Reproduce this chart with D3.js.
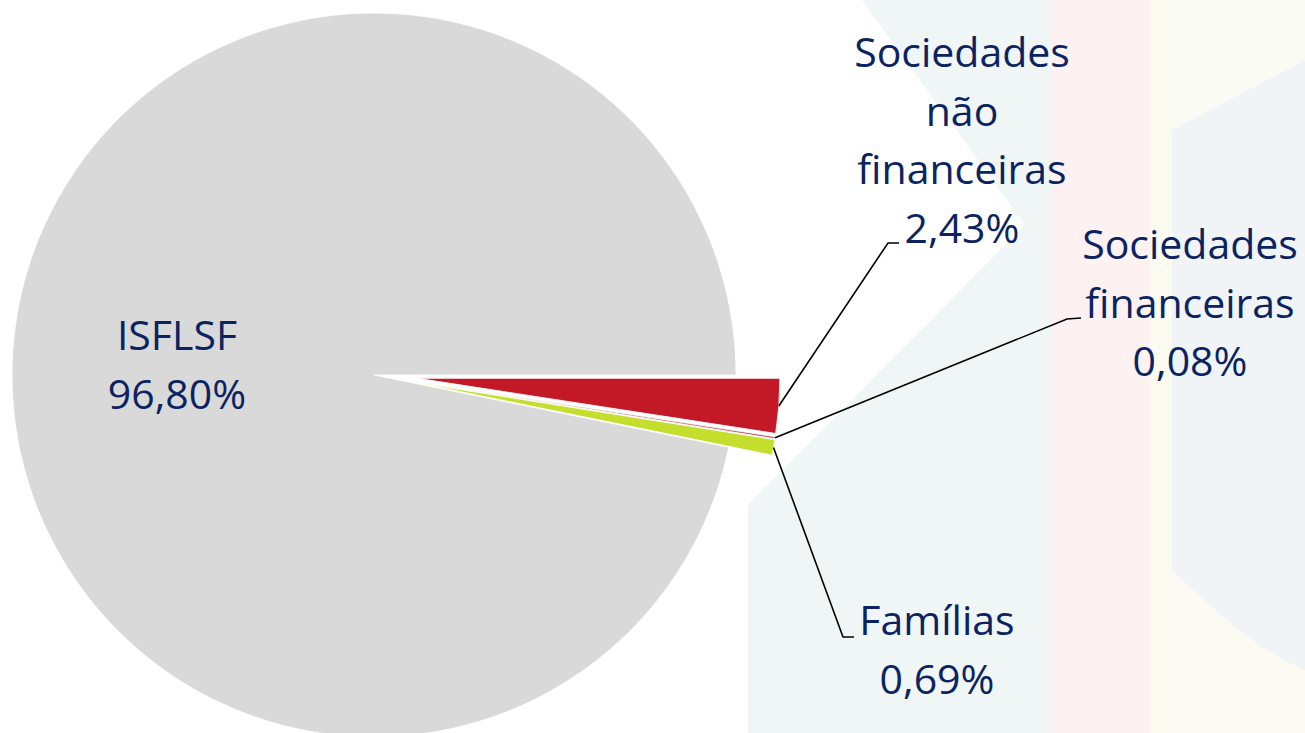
<!DOCTYPE html>
<html>
<head>
<meta charset="utf-8">
<script src="https://cdn.jsdelivr.net/npm/d3@7"></script>
<style>
    html, body { margin: 0; padding: 0; background: #ffffff; }
    svg { display: block; }
    .label { font-family: "Open Sans", "Noto Sans", sans-serif; fill: #0b2461; }
</style>
</head>
<body>
<div id="chart"></div>
<script>
// data (share of the total, %)
var sectors = ["Sociedades não financeiras", "Sociedades financeiras", "Famílias", "ISFLSF"];
var shares = [2.43, 0.08, 0.69, 96.80];
var colors = ["#c31826", "#b0444f", "#c3de2d", "#d9d9d9"];
var exploded = [true, true, true, false];

(function () {
    "use strict";

    var width = 1305,
        height = 733,
        cx = 374,
        cy = 375,
        radius = 362,
        explode = 44,
        fontSize = 41,
        lineHeight = 58.5,
        wrapWidth = 232,
        // label layout: centre x, first baseline, leader elbow (pie slices only)
        labelPos = [
            { x: 962, y: 67, elbow: [[888, 243], [899, 243]] },
            { x: 1190, y: 259, elbow: [[1067, 319], [1081, 318]] },
            { x: 937, y: 635, elbow: [[843, 637], [854, 637]] },
            { x: 177, y: 350, elbow: null }
        ];

    var svg = d3.select("#chart")
        .append("svg")
        .attr("width", width)
        .attr("height", height);

    // faint slide background
    var bg = svg.append("g").attr("class", "background");
    bg.append("polygon")
        .attr("points", "862,0 1052,0 1052,733 748,733 748,505 1025,225")
        .attr("fill", "#f0f5f5");
    bg.append("rect")
        .attr("x", 1052).attr("y", 0).attr("width", 98).attr("height", height)
        .attr("fill", "#fdf1f2");
    bg.append("rect")
        .attr("x", 1150).attr("y", 0).attr("width", 22).attr("height", height)
        .attr("fill", "#fbfbf1");
    bg.append("polygon")
        .attr("points", "1172,130 1305,60 1305,733 1172,733")
        .attr("fill", "#f0f4f6");
    bg.append("polygon")
        .attr("points", "1172,0 1305,0 1305,60 1172,130")
        .attr("fill", "#fafbf4");
    bg.append("path")
        .attr("d", "M1172,570 C1215,610 1255,650 1305,670 L1305,733 L1172,733 Z")
        .attr("fill", "#fbfbf3");

    var pie = d3.pie()
        .sort(null)
        .value(function (d) { return d; })
        .startAngle(Math.PI / 2)
        .endAngle(Math.PI / 2 + 2 * Math.PI);

    var arcs = pie(shares);

    var arc = d3.arc()
        .innerRadius(0)
        .outerRadius(radius);

    function offset(d, i) {
        if (!exploded[i]) {
            return [0, 0];
        }
        var a = (d.startAngle + d.endAngle) / 2;
        return [explode * Math.sin(a), -explode * Math.cos(a)];
    }

    var pieG = svg.append("g")
        .attr("transform", "translate(" + cx + "," + cy + ")");

    // draw the big slice first so the small exploded ones sit on top
    var order = [3, 0, 1, 2];
    order.forEach(function (i) {
        var o = offset(arcs[i], i);
        pieG.append("path")
            .attr("d", arc(arcs[i]))
            .attr("transform", "translate(" + o[0] + "," + o[1] + ")")
            .attr("fill", colors[i])
            .attr("stroke", "#ffffff")
            .attr("stroke-width", 0.8)
            .attr("stroke-linejoin", "miter");
    });

    // leader lines from the middle of each outer arc
    arcs.forEach(function (d, i) {
        var lp = labelPos[i];
        if (!lp.elbow) {
            return;
        }
        var o = offset(d, i),
            a = (d.startAngle + d.endAngle) / 2,
            sx = cx + o[0] + radius * Math.sin(a),
            sy = cy + o[1] - radius * Math.cos(a);
        svg.append("polyline")
            .attr("points", [[sx, sy]].concat(lp.elbow).map(function (p) { return p.join(","); }).join(" "))
            .attr("fill", "none")
            .attr("stroke", "#000000")
            .attr("stroke-width", 1.6);
    });

    function fmt(v) {
        return v.toFixed(2).replace(".", ",") + "%";
    }

    // greedy word wrap using the real text width
    var probe = svg.append("text").attr("class", "label").attr("font-size", fontSize);
    function wrap(str) {
        var words = str.split(" "),
            lines = [],
            cur = "";
        words.forEach(function (w) {
            var test = cur ? cur + " " + w : w;
            probe.text(test);
            if (cur && probe.node().getComputedTextLength() > wrapWidth) {
                lines.push(cur);
                cur = w;
            } else {
                cur = test;
            }
        });
        if (cur) {
            lines.push(cur);
        }
        return lines;
    }

    sectors.forEach(function (name, i) {
        var lp = labelPos[i],
            lines = wrap(name).concat([fmt(shares[i])]);
        var t = svg.append("text")
            .attr("class", "label")
            .attr("font-size", fontSize)
            .attr("text-anchor", "middle");
        lines.forEach(function (l, j) {
            t.append("tspan")
                .attr("x", lp.x)
                .attr("y", lp.y + j * lineHeight)
                .text(l);
        });
    });

    probe.remove();
}());
</script>
</body>
</html>
